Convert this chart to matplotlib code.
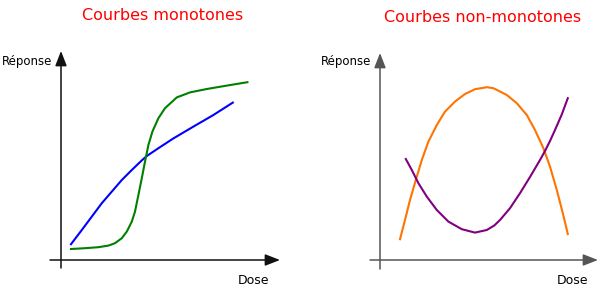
import matplotlib.pyplot as plt

# courbes monotones (dose, réponse)
dose_bleu = [0.5, 1.04, 1.54, 2.04, 2.54, 3.04, 3.54, 4.04, 4.29, 4.87, 5.62, 6.62, 7.62, 8.59]
rep_bleu = [0.79, 1.5, 2.17, 2.84, 3.42, 4.0, 4.5, 4.98, 5.2, 5.59, 6.08, 6.67, 7.25, 7.87]

dose_vert = [0.5, 1.2, 1.87, 2.37, 2.7, 3.04, 3.29, 3.54, 3.7, 3.87, 4.04, 4.2, 4.37,
             4.57, 4.87, 5.2, 5.79, 6.45, 7.29, 8.29, 9.32]
rep_vert = [0.55, 0.59, 0.64, 0.72, 0.84, 1.09, 1.42, 1.92, 2.42, 3.25, 4.09, 4.92, 5.75,
            6.42, 7.09, 7.59, 8.13, 8.38, 8.55, 8.72, 8.89]

# courbes non-monotones
dose_orange = [1.0, 1.25, 1.5, 1.79, 2.09, 2.42, 2.84, 3.25, 3.75, 4.25, 4.75, 5.34, 5.67,
               6.34, 6.84, 7.34, 7.75, 8.17, 8.5, 8.84, 9.14, 9.39]
rep_orange = [1.04, 2.0, 3.0, 4.0, 5.0, 5.92, 6.75, 7.42, 7.92, 8.3, 8.54, 8.64, 8.59,
              8.25, 7.84, 7.25, 6.5, 5.59, 4.67, 3.5, 2.34, 1.3]

dose_violet = [1.29, 1.59, 1.92, 2.34, 2.84, 3.42, 4.09, 4.75, 5.34, 5.72, 6.0, 6.5, 7.0,
               7.5, 8.0, 8.25, 8.5, 8.75, 9.09, 9.39]
rep_violet = [5.05, 4.5, 3.84, 3.17, 2.5, 1.92, 1.54, 1.37, 1.5, 1.73, 2.0, 2.59, 3.34,
              4.15, 5.0, 5.45, 5.95, 6.5, 7.28, 8.09]

fig = plt.figure(figsize=(6, 2.87), dpi=100)
ax1 = fig.add_axes([0, 0, 0.5, 1])
ax2 = fig.add_axes([0.5, 0, 0.5, 1])

ax1.set_xlim(-3.05, 11.95)
ax2.set_xlim(-4.0, 11.0)
for ax in (ax1, ax2):
    ax.set_ylim(-1.35, 13.0)
    ax.axis("off")

police = ["DejaVu Sans"]


def axes_fleches(ax, couleur, xmin, xmax, ymin, ymax):
    style = dict(arrowstyle="-|>,head_length=0.9,head_width=0.35", color=couleur, lw=1.1,
                 shrinkA=0, shrinkB=0, mutation_scale=10)
    ax.annotate("", xy=(0, ymax), xytext=(0, ymin), arrowprops=style)
    ax.annotate("", xy=(xmax, 0), xytext=(xmin, 0), arrowprops=style)
    ax.text(-0.45, 9.9, "Réponse", ha="right", va="center", fontsize=8.5, family=police)
    ax.text(9.62, -1.0, "Dose", ha="center", va="center", fontsize=9, family=police)


axes_fleches(ax1, "#111111", -0.55, 10.95, -0.4, 10.45)
axes_fleches(ax2, "#555555", -0.5, 10.9, -0.45, 10.35)

ax1.plot(dose_bleu, rep_bleu, color="#0000ff", lw=1.5, solid_joinstyle="round")
ax1.plot(dose_vert, rep_vert, color="#008000", lw=1.5, solid_joinstyle="round")
ax2.plot(dose_orange, rep_orange, color="#ff7300", lw=1.5, solid_joinstyle="round")
ax2.plot(dose_violet, rep_violet, color="#800080", lw=1.5, solid_joinstyle="round")

ax1.text(5.1, 12.25, "Courbes monotones", ha="center", va="center", fontsize=11.5,
         color="#ff0000", family=police)
ax2.text(5.15, 12.1, "Courbes non-monotones", ha="center", va="center", fontsize=11.5,
         color="#ff0000", family=police)

fig.savefig("out.png", dpi=100)
